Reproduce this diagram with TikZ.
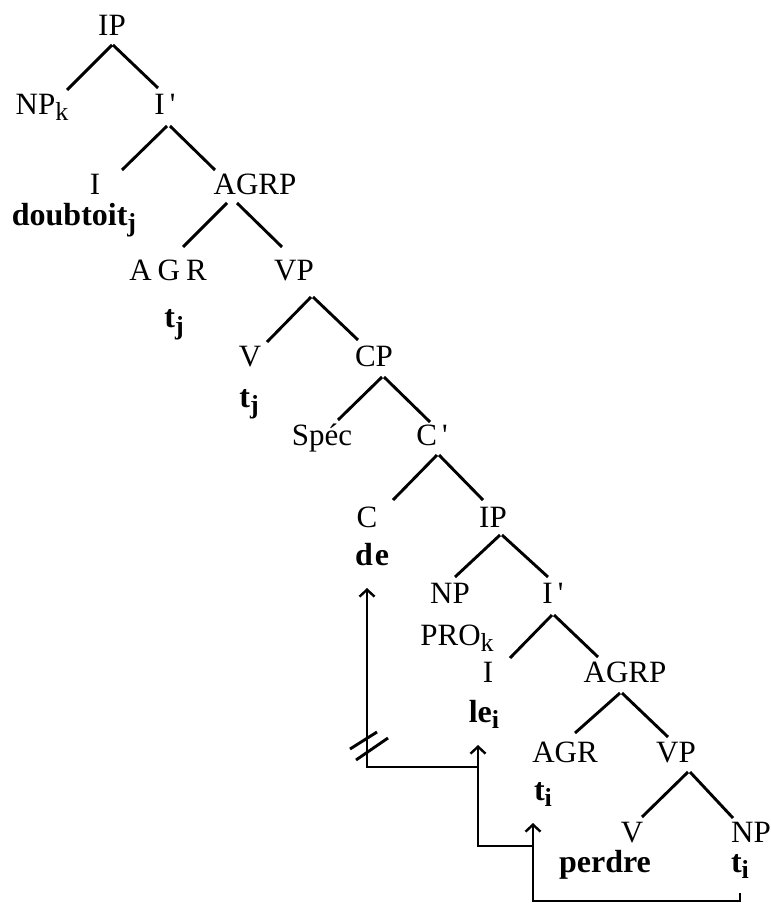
\documentclass[tikz,border=0pt]{standalone}
\usepackage{fontspec}
\setmainfont{Liberation Serif}
\usetikzlibrary{calc,arrows.meta}
\newcommand\lowr[1]{\raisebox{-3pt}{\fontsize{13}{13}\selectfont #1}}
\newcommand\prm{\,\textquotesingle}
\newcommand\treeline[4]{\draw[branch] ($(#1.base)+(#2)$) -- ($(#3.base)+(#4)$);}
\begin{document}
\begin{tikzpicture}[x=0.5pt,y=-0.5pt,
  lbl/.style={anchor=base,inner sep=0pt,font=\fontsize{15.5}{18}\selectfont},
  blbl/.style={lbl,font=\fontsize{16}{18}\selectfont\bfseries},
  branch/.style={line width=1.45pt},
  mv/.style={line width=1.2pt},
  mvarrow/.style={mv,-{Straight Barb[length=3.5pt,width=7.5pt]}}]
\fill[white] (0,0) rectangle (770,903);
\useasboundingbox (0,0) rectangle (770,903);
% labels
\node[lbl] (IP1) at (112,36) {IP};
\node[lbl] (NPk) at (42,115) {NP\lowr{k}};
\node[lbl] (Ib1) at (165,115) {I\prm};
\node[lbl] (I1) at (95,195) {I};
\node[lbl] (AGRP1) at (255,195) {AGRP};
\node[blbl] (dbt) at (74,226) {doubtoit\lowr{j}};
\node[lbl] (AGR1) at (168,280) {A\hspace{3pt}G\hspace{3pt}R};
\node[lbl] (VP1) at (294,280) {VP};
\node[blbl] (tj1) at (174,328) {t\lowr{j}};
\node[lbl] (V1) at (250,366) {V};
\node[lbl] (CP1) at (374,366) {CP};
\node[blbl] (tj2) at (249,407) {t\lowr{j}};
\node[lbl] (Spec) at (322,445) {Spéc};
\node[lbl] (Cb1) at (432,445) {C\prm};
\node[lbl] (C) at (367,527) {C};
\node[lbl] (IP2) at (493,527) {IP};
\node[blbl] (de) at (372,565) {d\hspace{1pt}e};
\node[lbl] (NP2) at (450,603) {NP};
\node[lbl] (Ib2) at (553,603) {I\prm};
\node[lbl] (PRO) at (457,645) {PRO\lowr{k}};
\node[lbl] (I2) at (488,682) {I};
\node[lbl] (AGRP2) at (625,682) {AGRP};
\node[blbl] (le) at (484,722) {le\lowr{i}};
\node[lbl] (AGR2) at (565,762) {AGR};
\node[lbl] (VP2) at (676,762) {VP};
\node[blbl] (ti2) at (543,800) {t\lowr{i}};
\node[lbl] (V2) at (632,842) {V};
\node[lbl] (NP3) at (751,842) {NP};
\node[blbl] (perdre) at (605,872) {perdre};
\node[blbl] (ti3) at (740,872) {t\lowr{i}};
% branches
\treeline{IP1}{0,9}{NPk}{25,-25}
\treeline{IP1}{1,9}{Ib1}{-7,-27}
\treeline{Ib1}{2,11}{I1}{27,-25}
\treeline{Ib1}{5,11}{AGRP1}{-40,-25}
\treeline{AGRP1}{-28,8}{AGR1}{15,-33}
\treeline{AGRP1}{-18,8}{VP1}{-12,-33}
\treeline{VP1}{17,17}{V1}{17,-24}
\treeline{VP1}{19,17}{CP1}{-16,-26}
\treeline{CP1}{8,11}{Spec}{16,-25}
\treeline{CP1}{10,11}{Cb1}{-2,-23}
\treeline{Cb1}{5,10}{C}{26,-27}
\treeline{Cb1}{7,10}{IP2}{-10,-27}
\treeline{IP2}{7,8}{NP2}{5,-26}
\treeline{IP2}{9,8}{Ib2}{-5,-26}
\treeline{Ib2}{-1,12}{I2}{22,-24}
\treeline{Ib2}{1,12}{AGRP2}{-27,-25}
\treeline{AGRP2}{-5,11}{AGR2}{10,-29}
\treeline{AGRP2}{-3,11}{VP2}{-8,-25}
\treeline{VP2}{12,10}{V2}{10,-25}
\treeline{VP2}{14,10}{NP3}{-18,-24}
% movement connectors
\coordinate (j1) at (533,846);
\coordinate (j2) at (478,767);
\draw[mvarrow] ($(ti3.base)+(0,21)$) -- ++(0,8) -| ($(ti2.base)+(-10,23)$);
\draw[mvarrow] (j1) -| ($(le.base)+(-6,23)$);
\draw[mvarrow] (j2) -| ($(de.base)+(-5,23)$);
% blocking mark
\draw[branch] (350,749) -- (377,732);
\draw[branch] (356,760) -- (388,738);
\end{tikzpicture}
\end{document}
